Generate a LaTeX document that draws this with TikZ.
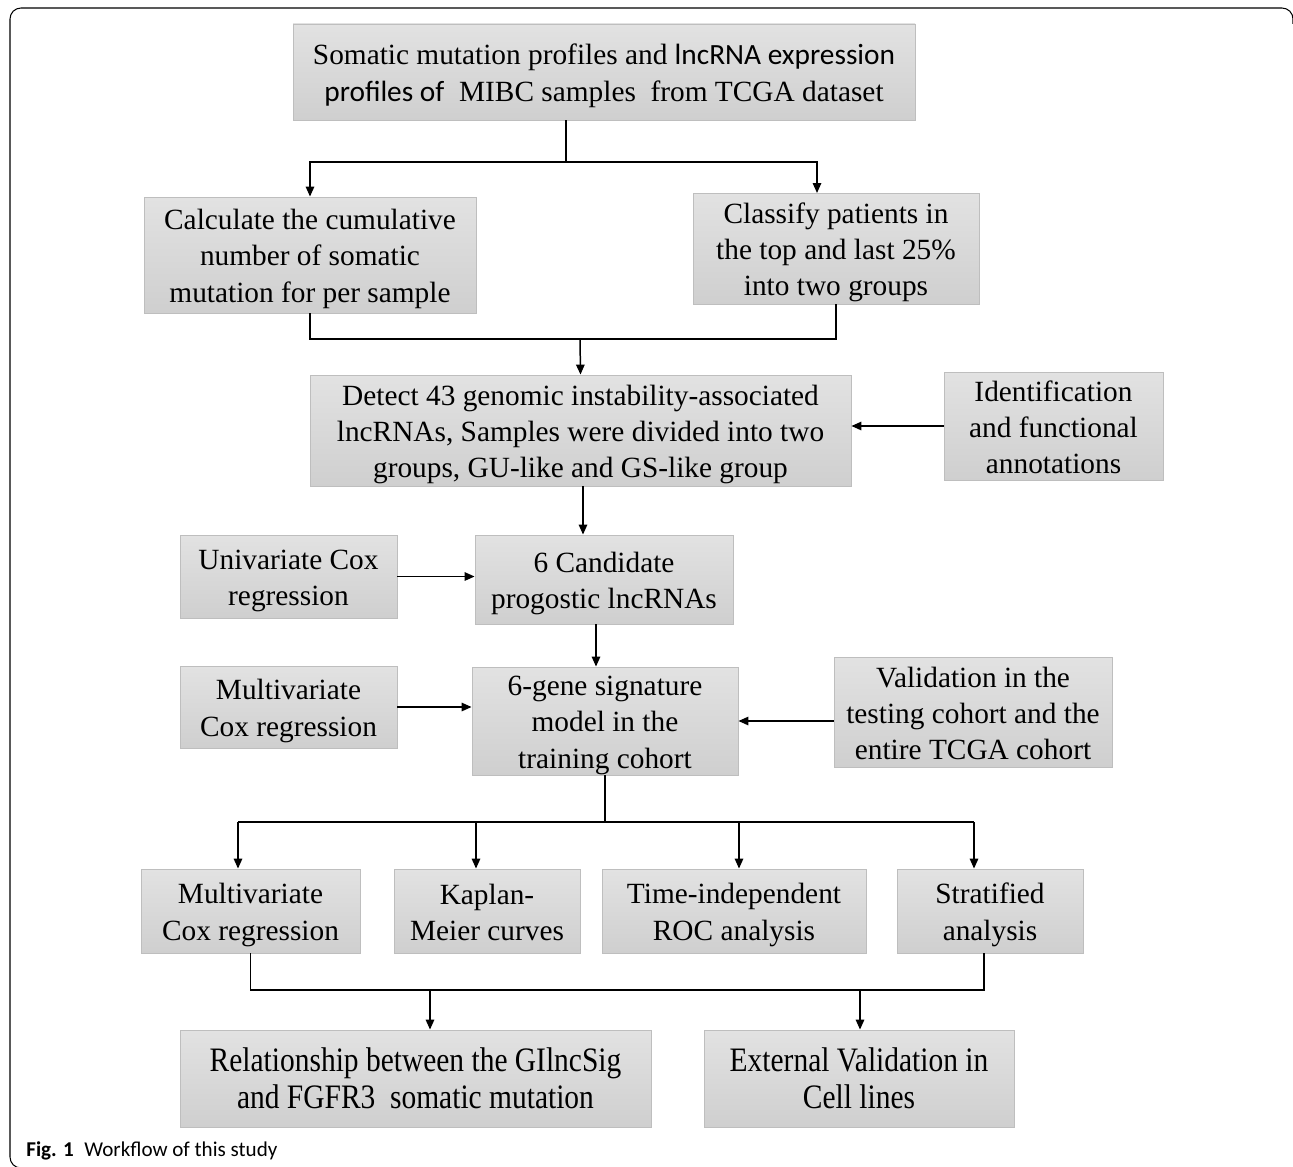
\documentclass[tikz,border=0pt]{standalone}
\usepackage{fontspec}
\setmainfont{Liberation Serif}
\newfontfamily\calfont{Carlito}
\newfontfamily\narrowfont[FakeStretch=0.86]{Liberation Serif}
\usetikzlibrary{arrows.meta}
\definecolor{boxtop}{HTML}{E2E2E2}
\definecolor{boxbot}{HTML}{CFCFCF}
\definecolor{boxline}{HTML}{BEBEBE}
\tikzset{
  fbox/.style={draw=boxline,line width=0.5pt,top color=boxtop,bottom color=boxbot,
    align=center,inner sep=0pt,font=\fontsize{16.7}{20.6}\selectfont},
  conn/.style={line width=0.85pt},
  arr/.style={conn,-{Triangle[length=0.2cm,width=0.17cm]}}
}
\begin{document}
\begin{tikzpicture}[x=0.02cm,y=-0.02cm]
\useasboundingbox (0,0) rectangle (1293,1166);
\def\flowbox#1#2#3#4#5#6#7{%
  \node[fbox,#2,minimum width={(#5-#3)*0.02cm},minimum height={(#6-#4)*0.02cm}]
    (#1) at ({(#3+#5)/2},{(#4+#6)/2})
    {\rule{0pt}{0.78\baselineskip}#7\rule[-0.15\baselineskip]{0pt}{0.15\baselineskip}};}
% frame and caption
\draw[line width=0.6pt,rounded corners=0.22cm] (1293,24) -- (1293,8) -- (10,8) -- (10,1168) -- (30,1168);
\node[anchor=base west,inner sep=0pt,font=\calfont\fontsize{12}{14}\selectfont] (cap) at (26,1156)
  {\textbf{Fig. 1}\hspace{0.5em}Workflow of this study};
% boxes
\flowbox{top}{}{293}{24}{915}{120}{Somatic mutation profiles and {\calfont lncRNA expression}\\
  {\calfont profiles of}\ \ MIBC samples\ \ from TCGA dataset}
\flowbox{calc}{}{144}{197}{476}{313}{Calculate the cumulative\\ number of somatic\\ mutation for per sample}
\flowbox{clas}{}{693}{193}{979}{304}{Classify patients in\\ the top and last 25\%\\ into two groups}
\flowbox{detect}{}{310}{375}{851}{486}{Detect 43 genomic instability-associated\\ lncRNAs, Samples were divided into two\\ groups, GU-like and GS-like group}
\flowbox{ident}{}{944}{372}{1163}{480}{Identification\\ and functional\\ annotations}
\flowbox{uni}{}{180}{535}{397}{618}{Univariate Cox\\ regression}
\flowbox{cand}{}{475}{535}{733}{624}{6 Candidate\\ progostic lncRNAs}
\flowbox{multi}{}{180}{666}{397}{748}{Multivariate\\ Cox regression}
\flowbox{gene}{}{472}{667}{738}{775}{6-gene signature\\ model in the\\ training cohort}
\flowbox{val}{}{834}{657}{1112}{767}{Validation in the\\ testing cohort and the\\ entire TCGA cohort}
\flowbox{mcox}{}{141}{869}{360}{953}{Multivariate\\ Cox regression}
\flowbox{km}{}{394}{869}{580}{953}{Kaplan-\\ Meier curves}
\flowbox{roc}{}{602}{869}{866}{953}{Time-independent\\ ROC analysis}
\flowbox{strat}{}{897}{869}{1083}{953}{Stratified\\ analysis}
\flowbox{rel}{font=\narrowfont\fontsize{19.5}{20.8}\selectfont}{180}{1030}{651}{1127}{Relationship between the GIlncSig\\ and FGFR3\ \ somatic mutation}
\flowbox{ext}{font=\narrowfont\fontsize{19.5}{20.8}\selectfont}{704}{1030}{1014}{1127}{External Validation in\\ Cell lines}
% connectors
\coordinate (j1) at (566,162);
\coordinate (c1) at (817,193);
\draw[conn] (j1 |- top.south) -- (j1);
\draw[arr] (j1) -| (calc.north);
\draw[arr] (j1) -| (c1);
\coordinate (j2) at (580,339);
\draw[conn] (calc.south) |- (j2) -| (clas.south);
\draw[arr] (j2) -- (detect.north);
\draw[arr] (ident.west) -- (ident.west -| detect.east);
\draw[arr] ([xshift=0.05cm]detect.south) -- ([xshift=0.05cm]detect.south |- cand.north);
\draw[arr] (uni.east) -- (uni.east -| cand.west);
\draw[arr] ([xshift=-0.16cm]cand.south) -- ([xshift=-0.16cm]cand.south |- gene.north);
\draw[arr] (multi.east) -- (multi.east -| gene.west);
\draw[arr] (val.west |- gene.east) -- (gene.east);
\coordinate (j3) at (605,822);
\draw[conn] (gene.south) -- (j3);
\foreach \x/\n in {238/mcox,476/km,739/roc,974/strat}{
  \coordinate (t\n) at (\x,822);
  \draw[arr] (t\n) -- (t\n |- \n.north);}
\draw[conn] (tmcox) -- (tstrat);
\coordinate (j4) at (430,990);
\coordinate (j5) at (860,990);
\draw[conn] (mcox.south) |- (j4) -- (j5) -| ([xshift=-0.12cm]strat.south);
\draw[arr] (j4) -- (j4 |- rel.north);
\draw[arr] (j5) -- (j5 |- ext.north);
\end{tikzpicture}
\end{document}
